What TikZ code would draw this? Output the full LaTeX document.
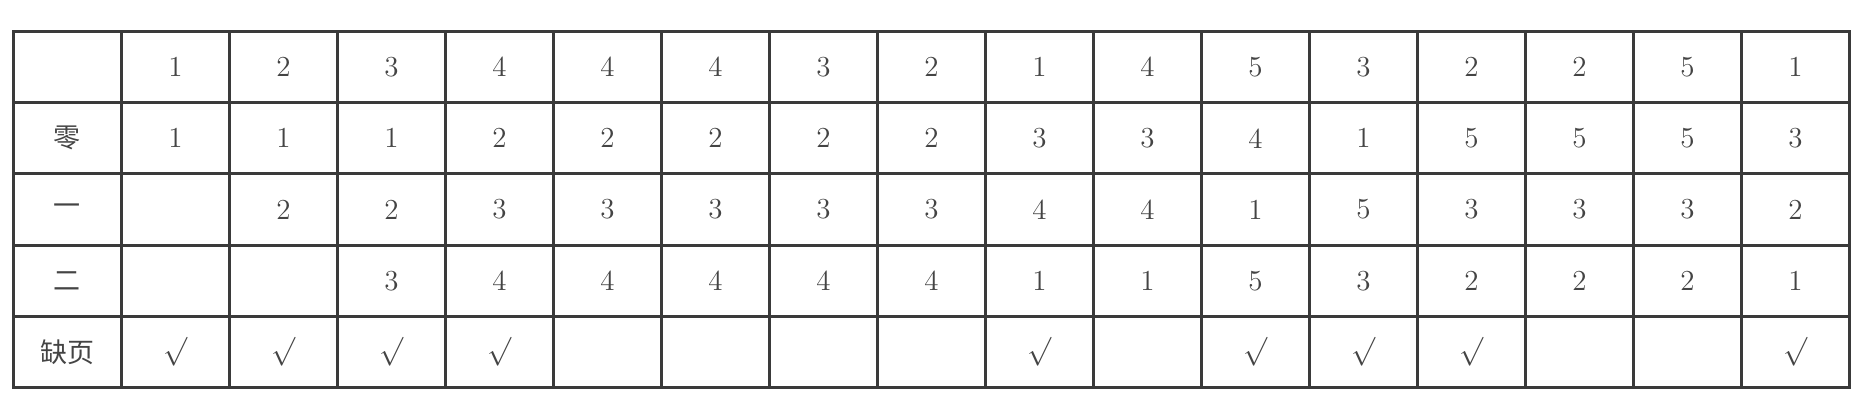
\documentclass[tikz,border=0pt]{standalone}
\usepackage{fontspec}
\newfontfamily\cjk{Noto Sans CJK SC}
\definecolor{gridc}{HTML}{3A3A3A}
\definecolor{txtc}{HTML}{444444}
\newcommand\ck{$\surd$}
\begin{document}
\begin{tikzpicture}[x=1pt,y=-1pt,
  cell/.style={draw=gridc,line width=1.5pt,minimum width=54pt,minimum height=35.6pt,
    inner sep=0pt,anchor=north west,text=txtc,font=\fontsize{14.5}{15}\selectfont},
  headcell/.style={cell,font=\cjk\fontsize{13.5}{14}\selectfont}]
\useasboundingbox (0,0) rectangle (934,205);
\newcommand\tabrow[3]{%
  \node[headcell] (c-#1-0) at (6,{15+35.6*#1}) {#2};
  \foreach \v [count=\c] in {#3} {\node[cell] (c-#1-\c) at ({6+54*\c},{15+35.6*#1}) {\v};}}
\tabrow{0}{}{1,2,3,4,4,4,3,2,1,4,5,3,2,2,5,1}
\tabrow{1}{零}{1,1,1,2,2,2,2,2,3,3,4,1,5,5,5,3}
\tabrow{2}{一}{{},2,2,3,3,3,3,3,4,4,1,5,3,3,3,2}
\tabrow{3}{二}{{},{},3,4,4,4,4,4,1,1,5,3,2,2,2,1}
\tabrow{4}{缺页}{\ck,\ck,\ck,\ck,{},{},{},{},\ck,{},\ck,\ck,\ck,{},{},\ck}
\end{tikzpicture}
\end{document}
